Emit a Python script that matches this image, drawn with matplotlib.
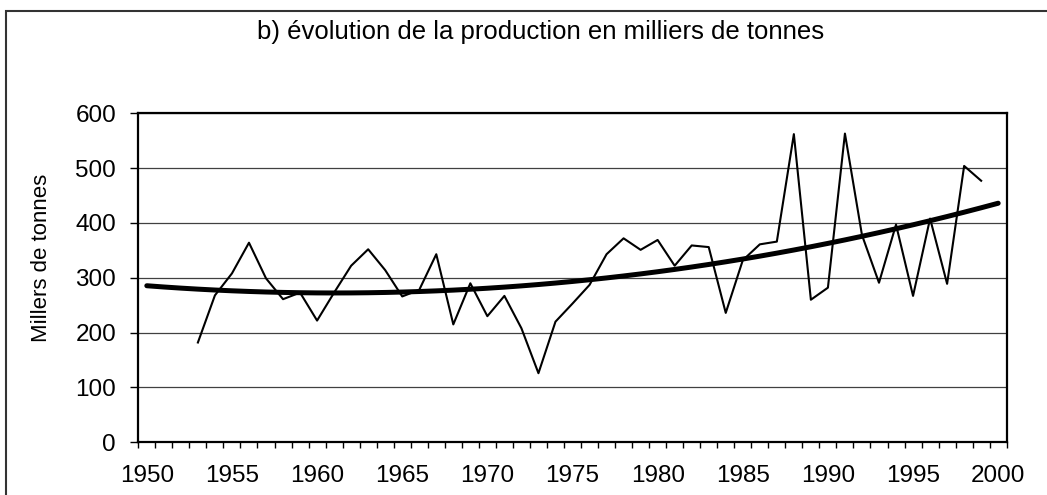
import matplotlib
matplotlib.use("Agg")
import matplotlib.pyplot as plt
import numpy as np
from matplotlib.patches import Rectangle
from matplotlib.ticker import MultipleLocator

plt.rcParams["font.family"] = ["Liberation Sans", "DejaVu Sans"]

# production, milliers de tonnes
years = list(range(1953, 2000))
production = [
    182, 268, 308, 364, 299, 261, 273, 222, 273, 322,   # 1953-1962
    352, 314, 266, 278, 343, 215, 290, 230, 267, 208,   # 1963-1972
    126, 220, 253, 287, 343, 372, 351, 369, 322, 359,   # 1973-1982
    356, 236, 332, 361, 366, 562, 260, 282, 563, 378,   # 1983-1992
    291, 397, 267, 408, 289, 504, 477,                  # 1993-1999
]
year_ticks = list(range(1950, 2001, 5))

title = "b) évolution de la production en milliers de tonnes"
ylabel = "Millers de tonnes"

# polynomial (order 2) trend over the full category range
coef = np.polyfit(years, production, 2)
trend_years = np.arange(1950, 2001)
trend = np.polyval(coef, trend_years)

W, H = 1047, 495
fig = plt.figure(figsize=(W / 100, H / 100), dpi=100)
ax = fig.add_axes([138.3 / W, 1 - 442.3 / H, (1006.7 - 138.3) / W, (442.3 - 113.3) / H])

ax.plot(trend_years, trend, color="black", linewidth=3.6, solid_capstyle="round", zorder=3)
ax.plot(years, production, color="black", linewidth=1.5, zorder=4)

ax.set_xlim(1949.5, 2000.5)
ax.set_ylim(0, 600)
ax.set_xticks(year_ticks)
ax.xaxis.set_minor_locator(MultipleLocator(1, offset=0.5))
ax.tick_params(axis="x", which="major", length=0, pad=16, labelsize=17.5)
ax.tick_params(axis="x", which="minor", length=4, width=1, direction="out")
ax.set_yticks(range(0, 601, 100))
ax.tick_params(axis="y", length=6, width=1, pad=10, labelsize=17.5)

ax.grid(axis="y", color="#404040", linewidth=0.9)
ax.set_axisbelow(True)
for side in ax.spines.values():
    side.set_linewidth(1.6)

fig.text(42 / W, 1 - 258 / H, ylabel, rotation=90, ha="center", va="center", fontsize=16)
fig.text(541 / W, 1 - 39.3 / H, title, ha="center", va="baseline", fontsize=18.5)

# outer chart border (right and bottom edges fall outside the image)
fig.patches.append(Rectangle((6 / W, -0.05), 1.1, (H - 11) / H + 0.05,
                             transform=fig.transFigure, fill=False,
                             edgecolor="#333333", linewidth=1.5))

fig.savefig("out.png", dpi=100)
